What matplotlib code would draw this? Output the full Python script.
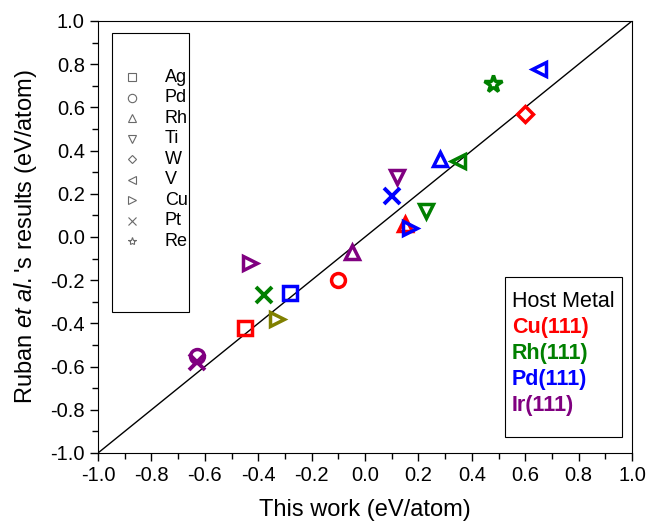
import numpy as np
import matplotlib.pyplot as plt
from matplotlib.patches import Rectangle
from matplotlib.ticker import MultipleLocator

plt.rcParams['font.family'] = 'Liberation Sans'
plt.rcParams['mathtext.fontset'] = 'custom'
plt.rcParams['mathtext.it'] = 'Liberation Sans:italic'
plt.rcParams['mathtext.rm'] = 'Liberation Sans'

# solute symbols and their marker shapes
solutes = ['Ag', 'Pd', 'Rh', 'Ti', 'W', 'V', 'Cu', 'Pt', 'Re']
markers = ['s', 'o', '^', 'v', 'D', '<', '>', 'x', '*']

# host metals and colours
hosts = ['Cu(111)', 'Rh(111)', 'Pd(111)', 'Ir(111)']
host_colors = ['red', 'green', 'blue', 'purple']

# (solute, this work, Ruban et al.) for each host
cu_pts = [('Ag', -0.45, -0.42), ('Pd', -0.10, -0.20), ('Rh', 0.15, 0.06), ('W', 0.60, 0.57)]
rh_pts = [('Pt', -0.38, -0.27), ('Ti', 0.23, 0.12), ('V', 0.35, 0.35), ('Re', 0.48, 0.71)]
pd_pts = [('Ag', -0.28, -0.26), ('Pt', 0.10, 0.19), ('Cu', 0.17, 0.04), ('Rh', 0.28, 0.36), ('V', 0.65, 0.78)]
ir_pts = [('Cu', -0.43, -0.12), ('Rh', -0.05, -0.07), ('Ti', 0.12, 0.28), ('Pd', -0.63, -0.55), ('Pt', -0.63, -0.58)]
olive_pts = [('Cu', -0.33, -0.38)]

fig = plt.figure(figsize=(6.51, 5.25), dpi=100)
ax = fig.add_axes([98 / 651, 72 / 525, 534 / 651, 432 / 525])

ax.plot([-1, 1], [-1, 1], color='black', lw=1)

def draw(points, color):
    for sol, x, y in points:
        m = markers[solutes.index(sol)]
        if m == 'x':
            ax.plot(x, y, marker=m, color=color, ms=12, mew=2.8, ls='none')
        else:
            ms = 13 if m == '*' else (8 if m == 'D' else 10)
            ax.plot(x, y, marker=m, mfc='none', mec=color, ms=ms, mew=2.5, ls='none')

for pts, c in zip([cu_pts, rh_pts, pd_pts, ir_pts, olive_pts],
                  host_colors + ['olive']):
    draw(pts, c)

ax.set_xlim(-1, 1)
ax.set_ylim(-1, 1)
ax.xaxis.set_major_locator(MultipleLocator(0.2))
ax.yaxis.set_major_locator(MultipleLocator(0.2))
ax.xaxis.set_minor_locator(MultipleLocator(0.1))
ax.yaxis.set_minor_locator(MultipleLocator(0.1))
ax.xaxis.set_major_formatter(lambda v, p: f'{v:.1f}')
ax.yaxis.set_major_formatter(lambda v, p: f'{v:.1f}')
ax.tick_params(which='both', direction='out', top=False, right=False, labelsize=14.5)
ax.tick_params(which='major', length=6, width=1)
ax.tick_params(which='minor', length=4, width=1)
ax.set_xlabel('This work (eV/atom)', fontsize=17, labelpad=10)
ax.set_ylabel(r"Ruban $\it{et\ al.}$'s results (eV/atom)", fontsize=17, labelpad=8)

# symbol legend box
ax.add_patch(Rectangle((0.026, 0.326), 0.145, 0.646, transform=ax.transAxes,
                       fill=False, edgecolor='black', lw=0.8))
for i, (sol, m) in enumerate(zip(solutes, markers)):
    yy = 0.870 - i * 0.0475
    ms = 4.5 if m == 'D' else 6
    ax.plot(0.064, yy, marker=m, mfc='none', mec='dimgray', color='dimgray',
            ms=ms, mew=0.8, transform=ax.transAxes)
    ax.text(0.125, yy, sol, fontsize=13, va='center', transform=ax.transAxes)

# host metal box
ax.add_patch(Rectangle((0.762, 0.037), 0.219, 0.370, transform=ax.transAxes,
                       fill=False, edgecolor='black', lw=0.8))
ax.text(0.775, 0.350, 'Host Metal', fontsize=15.5, va='center', transform=ax.transAxes)
for i, (h, c) in enumerate(zip(hosts, host_colors)):
    ax.text(0.775, 0.290 - i * 0.060, h, fontsize=15.5, fontweight='bold', color=c,
            va='center', transform=ax.transAxes)

fig.savefig('out.png', dpi=100)
